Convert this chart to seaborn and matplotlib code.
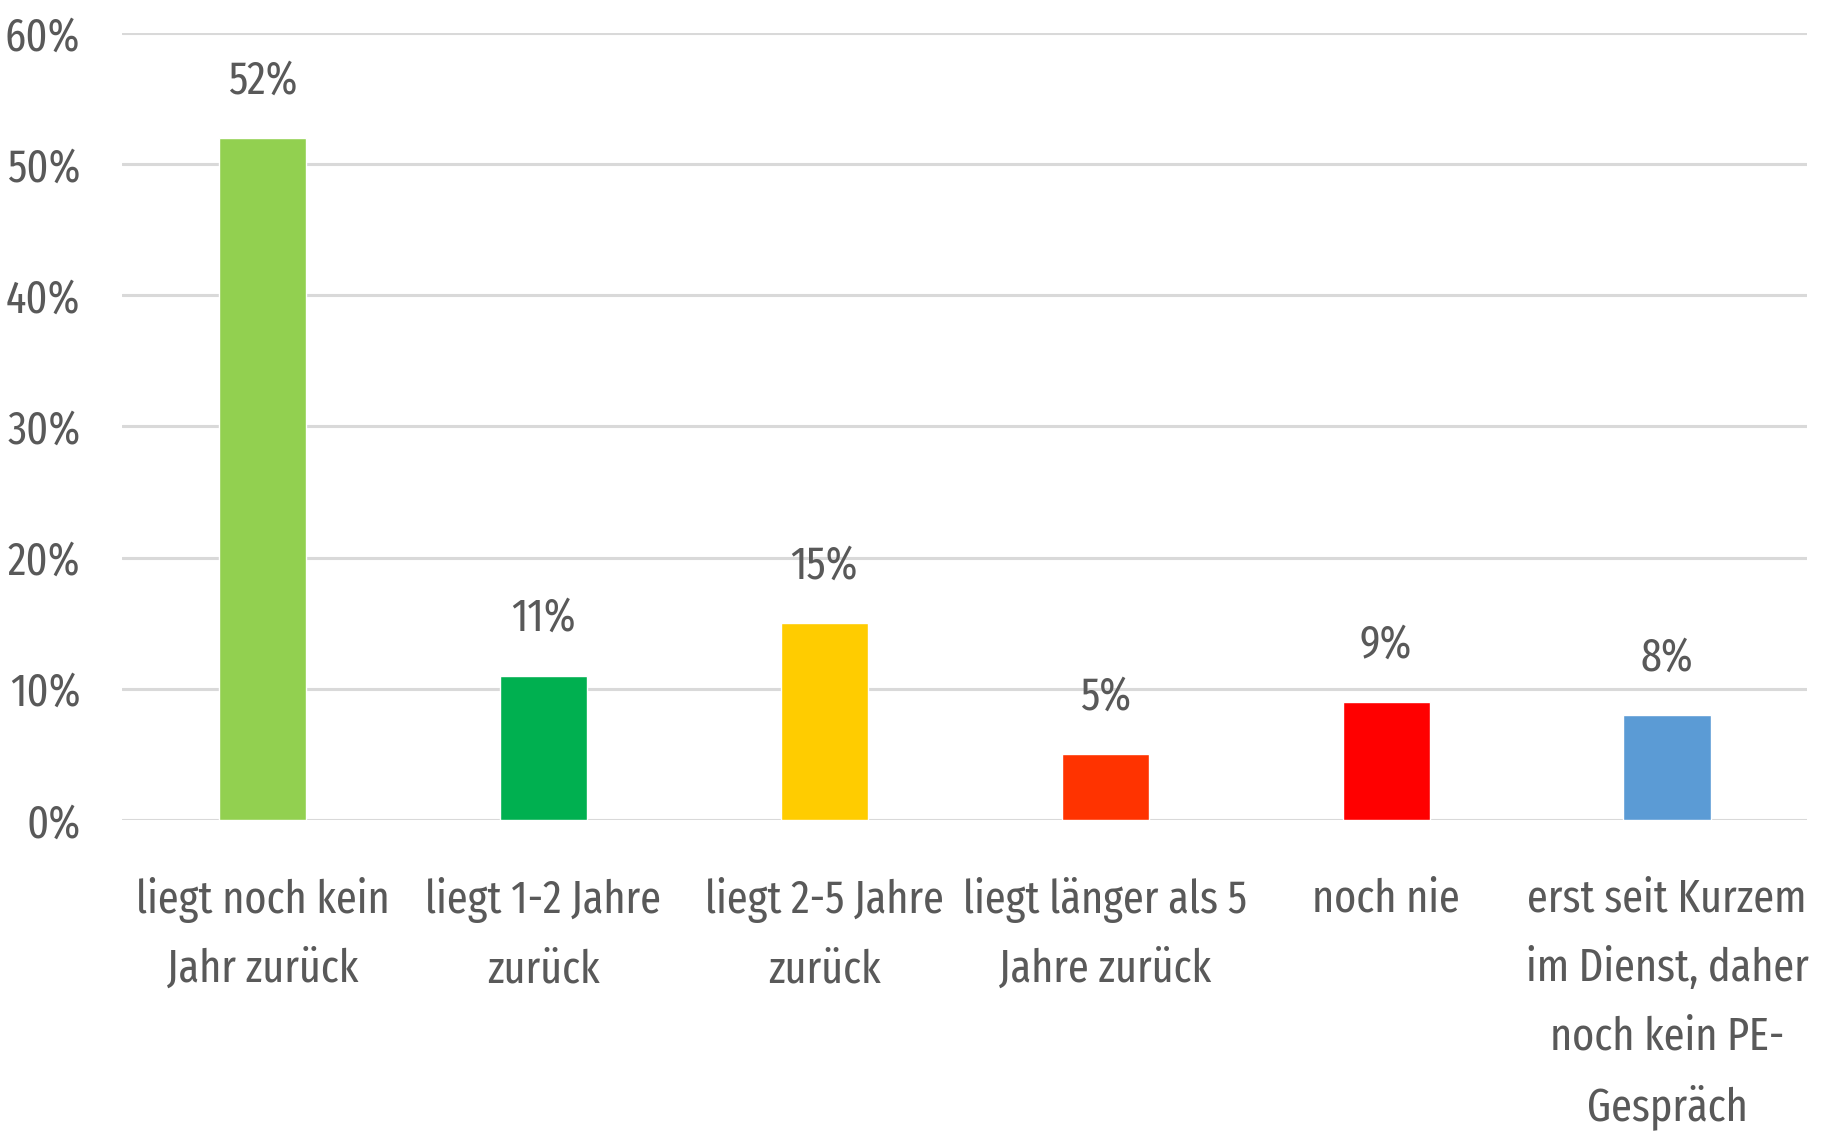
import pandas as pd
import matplotlib.pyplot as plt
import seaborn as sns
from matplotlib.ticker import PercentFormatter

# Daten aus dem Diagramm
kategorien = [
    "liegt noch kein\nJahr zurück",
    "liegt 1-2 Jahre\nzurück",
    "liegt 2-5 Jahre\nzurück",
    "liegt länger als 5\nJahre zurück",
    "noch nie",
    "erst seit Kurzem\nim Dienst, daher\nnoch kein PE-\nGespräch",
]
anteile = [52, 11, 15, 5, 9, 8]
farben = ["#92D050", "#00B050", "#FFCC00", "#FF3300", "#FF0000", "#5B9BD5"]
y_ticks = [0, 10, 20, 30, 40, 50, 60]

df = pd.DataFrame({"kategorie": kategorien, "anteil": anteile})

sns.set_style("white")
plt.rcParams["font.family"] = ["Fira Sans Extra Condensed", "DejaVu Sans"]
text_farbe = "#595959"
schrift = 33

fig = plt.figure(figsize=(18.22, 11.31), dpi=100)
ax = fig.add_axes([0.067, 0.275, 0.925, 0.696])

sns.barplot(data=df, x="kategorie", y="anteil", hue="kategorie",
            palette=farben, legend=False, width=0.31, ax=ax,
            saturation=1, zorder=3)

# Werte über den Balken
for i, wert in enumerate(anteile):
    ax.annotate(f"{wert}%", xy=(i, wert), xytext=(0, 25),
                textcoords="offset points", ha="center", va="bottom",
                fontsize=schrift, color=text_farbe)

ax.set_ylim(0, 60)
ax.set_xlim(-0.5, len(kategorien) - 0.5)
ax.set_yticks(y_ticks)
ax.yaxis.set_major_formatter(PercentFormatter(decimals=0))
ax.grid(axis="y", color="#d9d9d9", linewidth=2.2, zorder=0)
ax.set_axisbelow(True)
for s in ax.spines.values():
    s.set_visible(False)

ax.set_xlabel("")
ax.set_ylabel("")
ax.tick_params(axis="x", length=0, pad=41, labelsize=schrift, labelcolor=text_farbe)
ax.tick_params(axis="y", length=0, pad=30, labelsize=schrift, labelcolor=text_farbe)
for lbl in ax.get_xticklabels():
    lbl.set_linespacing(1.7)
    lbl.set_va("top")

plt.savefig("out.png", dpi=100)
plt.close()
